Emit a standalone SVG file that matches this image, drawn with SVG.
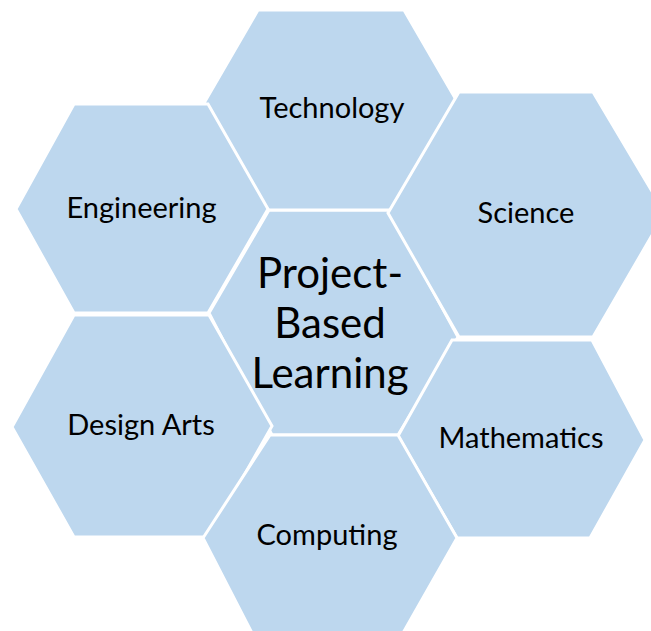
<svg xmlns="http://www.w3.org/2000/svg" width="651" height="631" viewBox="0 0 651 631">
  <style>
    .hex { fill: #BDD7EE; stroke: #FFFFFF; stroke-width: 3; stroke-linejoin: miter; }
    .lbl { font-family: Lato, "Open Sans", "Liberation Sans", sans-serif; font-size: 29px; fill: #000000; text-anchor: middle; }
    .big { font-size: 42px; }
  </style>
  <rect x="0" y="0" width="651" height="631" fill="#FFFFFF"/>

  <!-- centre cell sits underneath; the surrounding cells share its borders -->
  <g id="node-pbl">
    <polygon class="hex" points="269,210 389,210 458,337 398,435 272,435 209,313"/>
  </g>
  <g id="node-technology">
    <polygon class="hex" points="258,10 404,10 462,110 404,210 258,210 200,110"/>
  </g>
  <g id="node-engineering">
    <polygon class="hex" points="16,209 74,104 208,104 268,209 208,313 74,313"/>
  </g>
  <g id="node-science">
    <polygon class="hex" points="388,213 459,92 593,92 665,213 593,337 459,337"/>
  </g>
  <g id="node-design-arts">
    <polygon class="hex" points="12,427 74,315 209,315 272,426 209,537 74,537"/>
  </g>
  <g id="node-mathematics">
    <polygon class="hex" points="398,436 452,340 592,340 645,440 590,538 457,538"/>
  </g>
  <g id="node-computing">
    <polygon class="hex" points="270,435 398,435 457,538 403,633 252,633 203,538"/>
  </g>

  <!-- no connectors: the cells simply tile against each other -->
  <g id="connectors"/>

  <g id="labels">
    <text class="lbl" x="332" y="118">Technology</text>
    <text class="lbl" x="141.5" y="218">Engineering</text>
    <text class="lbl" x="526" y="223">Science</text>
    <text class="lbl" x="141" y="435">Design Arts</text>
    <text class="lbl" x="521" y="448">Mathematics</text>
    <text class="lbl" x="327" y="545">Computing</text>
    <text class="lbl big" x="330" y="288">Project-</text>
    <text class="lbl big" x="330" y="338">Based</text>
    <text class="lbl big" x="330" y="388">Learning</text>
  </g>
</svg>
